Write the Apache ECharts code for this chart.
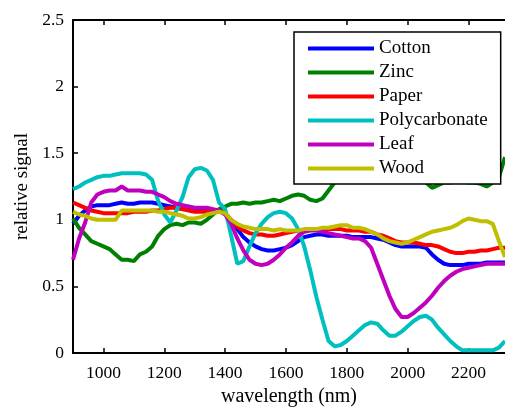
<!DOCTYPE html>
<html>
<head>
<meta charset="utf-8">
<script src="https://cdn.jsdelivr.net/npm/echarts@6/dist/echarts.min.js"></script>
<style>html,body{margin:0;padding:0;background:#fff;}#c{width:505px;height:407px;}</style>
</head>
<body>
<div id="c"></div>
<script>
var wavelengths = [900,920,940,960,980,1000,1020,1040,1060,1080,1100,1120,1140,1160,1180,1200,1220,1240,1260,1280,1300,1320,1340,1360,1380,1400,1420,1440,1460,1480,1500,1520,1540,1560,1580,1600,1620,1640,1660,1680,1700,1720,1740,1760,1780,1800,1820,1840,1860,1880,1900,1920,1940,1960,1980,2000,2020,2040,2060,2080,2100,2120,2140,2160,2180,2200,2220,2240,2260,2280,2300,2320];
var cotton = [0.97,1.03,1.07,1.10,1.11,1.11,1.11,1.12,1.13,1.12,1.12,1.13,1.13,1.13,1.12,1.11,1.10,1.09,1.08,1.08,1.08,1.08,1.08,1.07,1.07,1.05,0.99,0.93,0.87,0.83,0.80,0.78,0.77,0.77,0.78,0.79,0.81,0.84,0.87,0.88,0.89,0.89,0.88,0.88,0.88,0.88,0.87,0.87,0.87,0.87,0.86,0.85,0.83,0.81,0.80,0.80,0.80,0.80,0.79,0.74,0.70,0.67,0.66,0.66,0.66,0.67,0.67,0.67,0.68,0.68,0.68,0.68];
var zinc = [1.01,0.94,0.89,0.84,0.82,0.80,0.78,0.74,0.70,0.70,0.69,0.74,0.76,0.80,0.88,0.93,0.96,0.97,0.96,0.98,0.98,0.97,1.00,1.04,1.08,1.10,1.12,1.12,1.13,1.12,1.13,1.13,1.14,1.15,1.14,1.16,1.18,1.19,1.18,1.15,1.14,1.16,1.22,1.28,1.31,1.33,1.34,1.35,1.35,1.35,1.35,1.35,1.35,1.34,1.34,1.34,1.33,1.33,1.28,1.24,1.26,1.28,1.28,1.29,1.29,1.28,1.28,1.27,1.25,1.28,1.32,1.47];
var paper = [1.13,1.11,1.09,1.07,1.06,1.05,1.05,1.05,1.05,1.05,1.06,1.06,1.06,1.07,1.07,1.08,1.09,1.09,1.08,1.07,1.06,1.06,1.06,1.06,1.06,1.05,1.00,0.95,0.92,0.90,0.89,0.89,0.88,0.88,0.89,0.90,0.91,0.92,0.92,0.93,0.93,0.93,0.93,0.93,0.93,0.92,0.92,0.92,0.91,0.91,0.89,0.88,0.86,0.84,0.83,0.83,0.83,0.82,0.81,0.81,0.80,0.78,0.76,0.75,0.75,0.76,0.76,0.77,0.77,0.78,0.79,0.79];
var polycarbonate = [1.23,1.25,1.28,1.30,1.32,1.33,1.33,1.34,1.35,1.35,1.35,1.35,1.34,1.30,1.14,1.04,0.98,1.07,1.17,1.32,1.38,1.39,1.37,1.30,1.13,1.08,0.88,0.67,0.69,0.80,0.90,0.97,1.02,1.05,1.06,1.05,1.01,0.93,0.80,0.62,0.42,0.25,0.09,0.05,0.06,0.09,0.13,0.17,0.21,0.23,0.22,0.17,0.13,0.13,0.16,0.20,0.24,0.27,0.28,0.25,0.19,0.14,0.09,0.05,0.02,0.02,0.02,0.02,0.02,0.02,0.04,0.09];
var leaf = [0.70,0.86,0.98,1.13,1.19,1.21,1.22,1.22,1.25,1.22,1.22,1.22,1.21,1.21,1.19,1.17,1.14,1.12,1.11,1.10,1.09,1.09,1.09,1.08,1.07,1.04,0.97,0.86,0.77,0.70,0.67,0.66,0.67,0.70,0.74,0.79,0.83,0.88,0.91,0.92,0.92,0.91,0.90,0.89,0.88,0.87,0.86,0.86,0.84,0.79,0.67,0.55,0.43,0.33,0.27,0.27,0.30,0.34,0.38,0.43,0.49,0.54,0.58,0.61,0.63,0.64,0.65,0.66,0.67,0.67,0.67,0.67];
var wood = [1.06,1.04,1.03,1.01,1.00,1.00,1.00,1.00,1.07,1.07,1.07,1.07,1.07,1.07,1.06,1.06,1.05,1.04,1.03,1.01,1.01,1.02,1.04,1.05,1.06,1.05,1.00,0.97,0.95,0.94,0.93,0.93,0.93,0.92,0.93,0.92,0.92,0.92,0.93,0.93,0.93,0.94,0.94,0.95,0.96,0.96,0.94,0.94,0.93,0.91,0.89,0.86,0.84,0.83,0.82,0.83,0.85,0.87,0.89,0.91,0.92,0.93,0.94,0.96,0.99,1.01,1.00,0.99,0.99,0.97,0.84,0.72];
var seriesNames = ['Cotton','Zinc','Paper','Polycarbonate','Leaf','Wood'];
var seriesColors = ['#0000ff','#008000','#ff0000','#00bfbf','#bf00bf','#bfbf00'];
var xTicks = [1000,1200,1400,1600,1800,2000,2200];
var yTicks = [0,0.5,1,1.5,2,2.5];

var allValues = [cotton, zinc, paper, polycarbonate, leaf, wood];
var FONT = '"Liberation Serif", "Times New Roman", serif';

var chart = echarts.init(document.getElementById('c'), null, {renderer: 'canvas'});
var series = allValues.map(function (vals, i) {
  return {
    name: seriesNames[i],
    type: 'line',
    showSymbol: false,
    symbol: 'none',
    color: seriesColors[i],
    lineStyle: {width: 4, color: seriesColors[i]},
    data: wavelengths.map(function (w, j) { return [w, vals[j]]; }),
    xAxisIndex: 0,
    yAxisIndex: 0
  };
});

chart.setOption({
  animation: false,
  backgroundColor: '#fff',
  grid: {left: 73, top: 20, right: 0, bottom: 54, containLabel: false, outerBoundsMode: 'none'},
  legend: {
    orient: 'vertical',
    left: 294,
    top: 32,
    padding: [7, 13, 6, 14],
    itemWidth: 66,
    itemHeight: 4,
    itemGap: 5,
    icon: 'rect',
    itemTextGap: 9,
    backgroundColor: '#fff',
    borderColor: '#000',
    borderWidth: 1.5,
    borderRadius: 0,
    textStyle: {fontFamily: FONT, fontSize: 19, color: '#000', lineHeight: 18},
    data: seriesNames
  },
  xAxis: [{
    type: 'value',
    min: 900,
    max: 2320,
    position: 'bottom',
    name: 'wavelength (nm)',
    nameLocation: 'middle',
    nameGap: 32,
    nameTextStyle: {fontFamily: FONT, fontSize: 20, color: '#000'},
    axisLine: {show: true, onZero: false, lineStyle: {color: '#000', width: 2}},
    axisTick: {show: true, inside: true, length: 5, customValues: xTicks, lineStyle: {color: '#000', width: 1.5}},
    axisLabel: {show: true, customValues: xTicks, margin: 11, fontFamily: FONT, fontSize: 17.5, color: '#000',
      formatter: function (v) { return String(v); }},
    splitLine: {show: false}
  }, {
    type: 'value',
    min: 900,
    max: 2320,
    position: 'top',
    axisLine: {show: true, onZero: false, lineStyle: {color: '#000', width: 2}},
    axisTick: {show: true, inside: true, length: 5, customValues: xTicks, lineStyle: {color: '#000', width: 1.5}},
    axisLabel: {show: false},
    splitLine: {show: false}
  }],
  yAxis: [{
    type: 'value',
    min: 0,
    max: 2.5,
    interval: 0.5,
    name: 'relative signal',
    nameLocation: 'middle',
    nameGap: 35,
    nameTextStyle: {fontFamily: FONT, fontSize: 19, color: '#000'},
    axisLine: {show: true, onZero: false, lineStyle: {color: '#000', width: 2}},
    axisTick: {show: true, inside: true, length: 5, lineStyle: {color: '#000', width: 1.5}},
    axisLabel: {show: true, margin: 9, fontFamily: FONT, fontSize: 17.5, color: '#000',
      formatter: function (v) { return String(v); }},
    splitLine: {show: false}
  }],
  series: series
});
</script>
</body>
</html>
